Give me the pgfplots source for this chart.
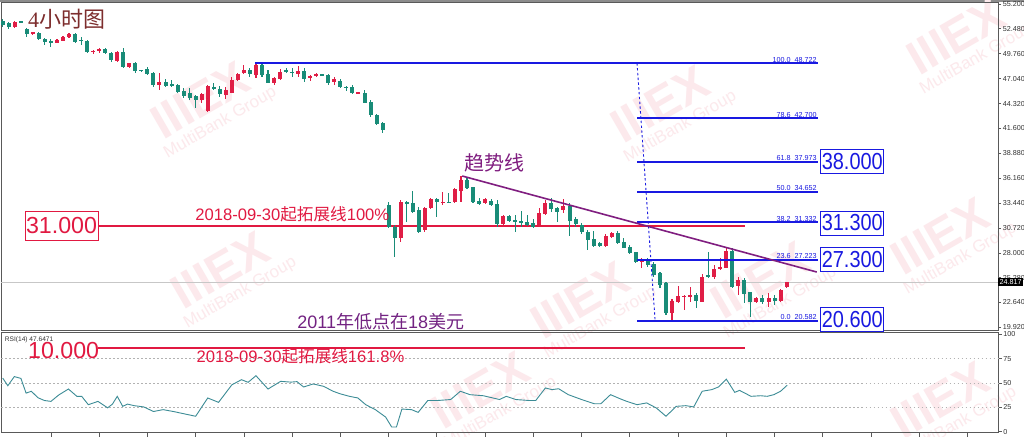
\documentclass[border=0pt]{standalone}
\usepackage{pgfplots}
\usepackage{pgfplotstable}
\pgfplotsset{compat=1.18}
\usepackage{graphicx}
\usepackage{fontspec}
\setmainfont{Liberation Sans}
\newfontfamily\cjk{Noto Sans CJK SC}
\newfontfamily\sernum{Liberation Serif}

\definecolor{up}{RGB}{224,30,70}
\definecolor{dn}{RGB}{25,140,120}
\definecolor{fib}{RGB}{25,25,225}
\definecolor{crim}{RGB}{225,25,65}
\definecolor{purp}{RGB}{128,30,128}
\definecolor{purt}{RGB}{115,35,130}
\definecolor{brn}{RGB}{125,45,45}
\definecolor{wm}{RGB}{252,233,236}
\definecolor{rsic}{RGB}{60,140,150}

\pgfplotstableread{
i o h l c
0 53.34 53.53 52.72 52.91
1 53.09 53.24 52.51 52.65
2 52.65 53.38 52.58 53.27
3 53.31 53.35 53.20 53.23
4 52.43 52.54 51.63 51.92
5 51.89 52.18 51.81 52.11
6 52.07 52.18 51.27 51.34
7 51.41 51.49 50.69 51.01
8 51.16 51.34 50.54 50.94
9 50.98 51.38 50.90 51.27
10 51.19 51.74 51.12 51.63
11 51.56 52.00 51.49 51.89
12 51.89 52.07 50.90 51.09
13 51.27 51.56 50.72 51.16
14 51.19 51.27 49.89 49.99
15 49.98 50.18 49.74 50.05
16 50.14 50.39 49.89 50.25
17 50.25 50.43 49.74 49.81
18 49.89 50.00 48.87 49.08
19 49.01 50.10 48.90 50.00
20 50.00 50.36 48.25 48.28
21 48.28 48.79 48.21 48.72
22 48.72 48.87 47.70 47.92
23 47.96 48.00 47.81 47.92
24 48.06 48.35 47.48 47.55
25 47.63 47.77 46.10 46.35
26 46.35 47.70 45.81 46.72
27 46.72 46.97 46.10 46.24
28 46.46 46.90 46.10 46.24
29 46.32 46.46 45.52 45.59
30 45.73 45.99 44.90 45.15
31 45.44 45.99 44.72 44.90
32 45.15 45.22 43.80 44.72
33 44.71 45.51 44.35 45.33
34 43.55 46.35 43.44 46.24
35 46.17 46.54 45.81 45.91
36 45.91 46.24 45.08 45.33
37 45.26 46.17 44.79 45.80
38 45.51 47.19 45.44 46.90
39 46.90 47.63 46.83 47.52
40 47.63 48.54 47.55 47.99
41 47.99 48.17 47.26 47.52
42 47.44 48.72 47.08 48.54
43 48.54 48.65 47.26 47.44
44 47.55 47.99 46.54 46.61
45 46.54 47.26 46.35 47.08
46 46.97 48.06 46.90 47.81
47 47.92 48.17 47.63 47.81
48 47.81 48.17 47.26 47.63
49 47.55 48.43 47.26 47.92
50 47.92 48.17 46.72 46.97
51 47.08 47.44 46.83 47.33
52 47.33 47.63 47.19 47.55
53 47.48 47.55 47.33 47.44
54 47.44 47.55 46.35 46.54
55 46.72 47.26 46.35 46.97
56 46.83 46.97 45.99 46.17
57 46.17 46.24 45.73 45.99
58 46.17 46.35 45.37 45.44
59 45.48 45.60 45.40 45.53
60 45.51 45.80 44.35 44.42
61 44.53 44.71 42.89 43.07
62 43.07 43.18 41.99 42.09
63 42.24 42.35 41.07 41.44
64 33.24 33.60 30.69 30.88
65 30.88 31.06 27.53 29.60
66 29.60 33.79 29.24 33.61
67 33.61 33.72 31.42 33.35
68 33.42 34.81 32.40 32.51
69 32.70 33.06 30.22 30.33
70 30.51 33.06 30.33 32.88
71 32.88 33.97 32.77 33.86
72 33.86 33.97 31.97 33.61
73 33.46 34.70 33.24 33.61
74 33.61 34.52 33.42 33.44
75 33.61 35.06 33.50 34.95
76 34.81 36.41 33.61 35.97
77 35.97 36.15 34.95 35.06
78 35.17 35.24 33.50 33.61
79 33.72 33.97 33.24 33.35
80 33.50 33.97 33.35 33.86
81 33.72 33.86 33.13 33.24
82 33.35 33.79 30.88 31.17
83 31.17 32.15 30.88 32.04
84 32.04 32.15 31.42 31.53
85 31.56 32.15 30.33 31.50
86 31.53 32.62 30.88 31.31
87 31.42 32.15 30.95 31.06
88 31.24 31.68 30.69 30.88
89 31.06 32.88 30.88 32.33
90 32.26 33.79 32.15 33.42
91 33.42 33.97 32.51 32.77
92 32.88 33.06 31.42 32.51
93 32.70 33.86 32.40 33.13
94 33.13 33.42 29.86 31.53
95 31.68 31.90 30.88 31.17
96 31.06 31.24 30.08 30.33
97 30.33 30.51 28.33 29.42
98 29.53 30.40 28.69 28.80
99 29.05 29.24 28.69 28.80
100 28.80 30.04 28.69 29.89
101 29.78 30.33 29.60 30.15
102 30.15 30.40 28.94 29.05
103 29.16 29.60 28.51 28.58
104 28.69 28.87 27.85 27.96
105 28.07 28.14 26.87 26.98
106 27.05 27.49 26.40 27.23
107 27.23 27.49 26.51 26.69
108 26.76 27.05 25.41 25.60
109 25.78 25.96 24.21 24.50
110 24.68 24.87 21.23 21.41
111 21.41 22.97 20.58 22.76
112 22.61 24.43 22.50 23.34
113 23.20 23.41 21.77 23.34
114 23.19 24.32 22.61 23.41
115 23.41 23.59 22.03 22.76
116 22.61 25.67 22.61 25.41
117 25.60 28.14 25.30 25.41
118 25.41 26.69 25.16 26.25
119 26.25 27.42 26.14 26.51
120 26.40 28.51 26.32 28.22
121 28.22 28.51 24.21 24.32
122 24.43 25.41 23.41 25.05
123 25.05 25.23 22.50 23.48
124 23.70 23.77 21.04 22.61
125 22.61 23.23 22.50 23.05
126 23.12 23.41 22.39 22.61
127 22.61 23.59 22.14 23.05
128 23.12 23.41 22.32 22.76
129 22.76 24.07 22.61 23.96
130 24.32 24.87 24.21 24.817
}\candles

\pgfplotstableread{
i v
0 55.1
0.85 47.2
1.93 56.6
3.02 54.7
3.88 39.6
4.75 41.5
5.83 34.9
6.92 32.0
8.0 31.1
9.3 37.7
10.9 43.8
12.3 36.3
13.1 36.3
14.2 27.7
15.8 31.1
17.4 24.5
18.2 28.3
19.0 36.3
19.9 26.0
20.7 28.3
21.8 26.7
23.4 25.4
25.0 20.7
26.6 22.6
28.3 20.7
30.4 17.9
32.0 15.8
34.0 34.6
35.8 30.1
38.0 48.1
39.6 53.4
40.7 50.7
42.0 57.5
44.0 43.8
46.1 51.7
47.8 50.9
48.8 51.4
49.9 45.9
51.5 49.0
53.2 46.6
54.8 41.5
55.9 39.0
57.5 36.3
58.9 34.6
60.2 27.7
61.8 22.6
63.5 15.0
64.5 4.8
65.3 4.8
66.2 23.2
67.8 22.6
68.9 19.8
70.5 32.0
72.1 32.0
74.3 33.0
75.9 41.5
77.5 38.0
79.7 36.9
81.3 34.6
82.4 33.0
83.5 36.3
85.1 33.0
87.3 32.0
88.4 32.0
90.0 44.9
91.1 43.2
92.2 44.1
93.8 38.0
96.0 33.0
98.1 28.7
99.2 28.7
100.8 38.0
102.5 33.5
103.5 31.1
105.2 27.7
106.8 29.5
108.4 24.3
110.0 15.8
111.7 26.0
113.3 26.7
114.6 25.4
116.0 41.5
117.6 43.2
118.7 45.9
120.0 54.0
121.4 40.4
122.2 42.4
124.1 36.3
125.7 36.9
126.8 36.3
127.9 38.0
129.0 41.5
130.1 47.7
}\rsi

\newcommand{\wmark}[2]{%
\begin{scope}[shift={(#1pt,-#2pt)}, rotate=30, transform shape]
\node[text=wm, font=\bfseries\fontsize{24}{24}\selectfont] at (0,0) {IIIEX};
\node[text=wm, font=\fontsize{8.5}{8.5}\selectfont] at (3pt,-15pt) {MultiBank Group};
\end{scope}}

\pgfplotsset{candle/.style={only marks, mark=*, mark size=0pt, mark options={draw=none, fill=none}, forget plot}}

\begin{document}
\begin{tikzpicture}
\path[use as bounding box] (0,0) rectangle (512pt,-218.5pt);
\fill[white] (0,0) rectangle (512pt,-218.5pt);
\fill[black!45] (0,0) rectangle (512pt,-1pt);
% watermarks
\wmark{100}{50}
\wmark{330}{52}
\wmark{478}{18}
\wmark{110}{135}
\wmark{290}{150}
\wmark{380}{140}
\wmark{470}{118}
\wmark{240}{195}
\wmark{470}{200}

\begin{axis}[
  at={(0.75pt,-1.5pt)}, anchor=north west,
  scale only axis, width=498.25pt, height=164pt,
  xmin=-0.2, xmax=165.06, ymin=19.478, ymax=55.309,
  clip=false,
  axis line style={black!65, line width=0.5pt},
  xtick=\empty,
  ytick={55.2,52.48,49.76,47.04,44.32,41.6,38.88,36.16,33.44,30.72,28.0,25.28,22.64,19.92},
  yticklabels={55.200,52.480,49.760,47.040,44.320,41.600,38.880,36.160,33.440,30.720,28.000,25.280,22.640,19.920},
  ytick pos=right, yticklabel pos=right,
  tick align=outside, major tick length=1.5pt,
  tick style={black!65, line width=0.4pt},
  yticklabel style={font=\fontsize{3.6}{4}\selectfont, text=black!80, xshift=-2.6pt},
]
% current price line
\addplot[black!22, line width=0.4pt] coordinates {(-0.2,24.817) (165.06,24.817)};
% 31 red line
\addplot[crim, line width=0.7pt] coordinates {(15.8,30.95) (123.1,30.95)};
% wicks
\addplot[candle,
  restrict expr to domain={\thisrow{c}-\thisrow{o}}{-100:-0.00001},
  error bars/.cd, y dir=both, y explicit, error mark=none,
  error bar style={line width=0.55pt, color=dn}]
  table[x=i, y expr={(\thisrow{h}+\thisrow{l})/2}, y error expr={(\thisrow{h}-\thisrow{l})/2}] {\candles};
\addplot[candle,
  restrict expr to domain={\thisrow{c}-\thisrow{o}}{0:100},
  error bars/.cd, y dir=both, y explicit, error mark=none,
  error bar style={line width=0.55pt, color=up}]
  table[x=i, y expr={(\thisrow{h}+\thisrow{l})/2}, y error expr={(\thisrow{h}-\thisrow{l})/2}] {\candles};
% bodies
\addplot[candle,
  restrict expr to domain={\thisrow{c}-\thisrow{o}}{-100:-0.00001},
  error bars/.cd, y dir=both, y explicit, error mark=none,
  error bar style={line width=2pt, color=dn}]
  table[x=i, y expr={(\thisrow{o}+\thisrow{c})/2}, y error expr={max(abs(\thisrow{c}-\thisrow{o})/2,0.07)}] {\candles};
\addplot[candle,
  restrict expr to domain={\thisrow{c}-\thisrow{o}}{0:100},
  error bars/.cd, y dir=both, y explicit, error mark=none,
  error bar style={line width=2pt, color=up}]
  table[x=i, y expr={(\thisrow{o}+\thisrow{c})/2}, y error expr={max(abs(\thisrow{c}-\thisrow{o})/2,0.07)}] {\candles};
% fibonacci
\addplot[fib, line width=1pt] coordinates {(41.8,48.722) (135.2,48.722)};
\addplot[fib, line width=1pt] coordinates {(105.2,42.700) (135.2,42.700)};
\addplot[fib, line width=1pt] coordinates {(105.2,37.973) (135.2,37.973)};
\addplot[fib, line width=1pt] coordinates {(105.2,34.652) (135.2,34.652)};
\addplot[fib, line width=1pt] coordinates {(105.2,31.332) (135.2,31.332)};
\addplot[fib, line width=1pt] coordinates {(105.2,27.223) (135.2,27.223)};
\addplot[fib, line width=1pt] coordinates {(105.2,20.582) (135.2,20.582)};
\addplot[fib, line width=0.45pt, dash pattern=on 1.2pt off 1.2pt] coordinates {(105.2,48.722) (108.2,20.582)};
% trend line
\addplot[purp, line width=0.8pt] coordinates {(76.2,36.41) (135.0,25.92)};

\begin{scope}[every node/.style={font=\fontsize{3.6}{4}\selectfont, text=fib, anchor=south east, inner sep=0.4pt}]
\node at (axis cs:135.2,48.722) {100.0\ \ 48.722};
\node at (axis cs:135.2,42.700) {78.6\ \ 42.700};
\node at (axis cs:135.2,37.973) {61.8\ \ 37.973};
\node at (axis cs:135.2,34.652) {50.0\ \ 34.652};
\node at (axis cs:135.2,31.332) {38.2\ \ 31.332};
\node at (axis cs:135.2,27.223) {23.6\ \ 27.223};
\node at (axis cs:135.2,20.582) {0.0\ \ 20.582};
\end{scope}

\begin{scope}[every node/.style={draw=fib, line width=0.4pt, fill=white, text=fib, inner sep=0pt, minimum width=31.5pt, minimum height=12pt, font=\fontsize{11.6}{12}\selectfont}]
\node at (axis cs:140.9,37.99) {\scalebox{0.86}[1]{38.000}};
\node at (axis cs:140.9,31.28) {\scalebox{0.86}[1]{31.300}};
\node at (axis cs:140.9,27.27) {\scalebox{0.86}[1]{27.300}};
\node at (axis cs:140.9,20.73) {\scalebox{0.86}[1]{20.600}};
\end{scope}

\node[draw=crim, line width=0.4pt, fill=white, text=crim, inner sep=0pt, minimum width=36.5pt, minimum height=14.5pt, font=\fontsize{11.6}{12}\selectfont] at (axis cs:9.75,30.95) {31.000};
\node[anchor=base west, text=crim, inner sep=0pt, font=\fontsize{8.3}{9}\selectfont] at (axis cs:31.9,31.6) {2018-09-30{\cjk 起拓展线}100\%};
\node[text=purp, inner sep=0pt, font=\cjk\fontsize{10}{10}\selectfont] at (axis cs:81.6,37.83) {趋势线};
\node[text=purt, inner sep=0pt, font=\fontsize{9}{9}\selectfont] at (axis cs:62.7,20.46) {2011{\cjk 年低点在}18{\cjk 美元}};
\node[text=brn, inner sep=0pt, font=\fontsize{11}{11}\selectfont] at (axis cs:10.6,53.56) {{\sernum 4}{\cjk 小时图}};
\node[anchor=west, fill=black, text=white, inner sep=0.6pt, font=\fontsize{3.6}{4}\selectfont] at (axis cs:165.06,24.817) {24.817};
\end{axis}

\begin{axis}[
  at={(0.75pt,-166.5pt)}, anchor=north west,
  scale only axis, width=498.25pt, height=50pt,
  xmin=-0.2, xmax=165.06, ymin=-1.4, ymax=101.4,
  clip=false,
  axis line style={black!65, line width=0.5pt},
  xtick={8,16,...,160}, xticklabels={},
  xtick pos=bottom,
  ytick={0,25,50,75,100}, yticklabels={0,25,50,75,100},
  ytick pos=right, yticklabel pos=right,
  tick align=outside, major tick length=1.8pt,
  tick style={black!65, line width=0.4pt},
  yticklabel style={font=\fontsize{3.6}{4}\selectfont, text=black!80, xshift=-2.6pt},
]
\addplot[black!30, line width=0.35pt, dash pattern=on 0.8pt off 1.2pt] coordinates {(-0.2,75) (165.06,75)};
\addplot[black!30, line width=0.35pt, dash pattern=on 0.8pt off 1.2pt] coordinates {(-0.2,50) (165.06,50)};
\addplot[black!30, line width=0.35pt, dash pattern=on 0.8pt off 1.2pt] coordinates {(-0.2,25) (165.06,25)};
\addplot[crim, line width=0.8pt] coordinates {(15.8,86) (123.1,86)};
\addplot[rsic, line width=0.45pt] table[x=i, y=v] {\rsi};
\node[anchor=north west, inner sep=0pt, font=\fontsize{3.3}{4}\selectfont, text=black!80] at (rel axis cs:0,1) [xshift=1.5pt, yshift=-1.5pt] {RSI(14) 47.6471};
\node[text=crim, inner sep=0pt, font=\fontsize{11.6}{12}\selectfont] at (axis cs:10.1,83) {10.000};
\node[anchor=base west, text=crim, inner sep=0pt, font=\fontsize{8.3}{9}\selectfont] at (axis cs:32.1,71) {2018-09-30{\cjk 起拓展线}161.8\%};
\end{axis}
\end{tikzpicture}
\end{document}
